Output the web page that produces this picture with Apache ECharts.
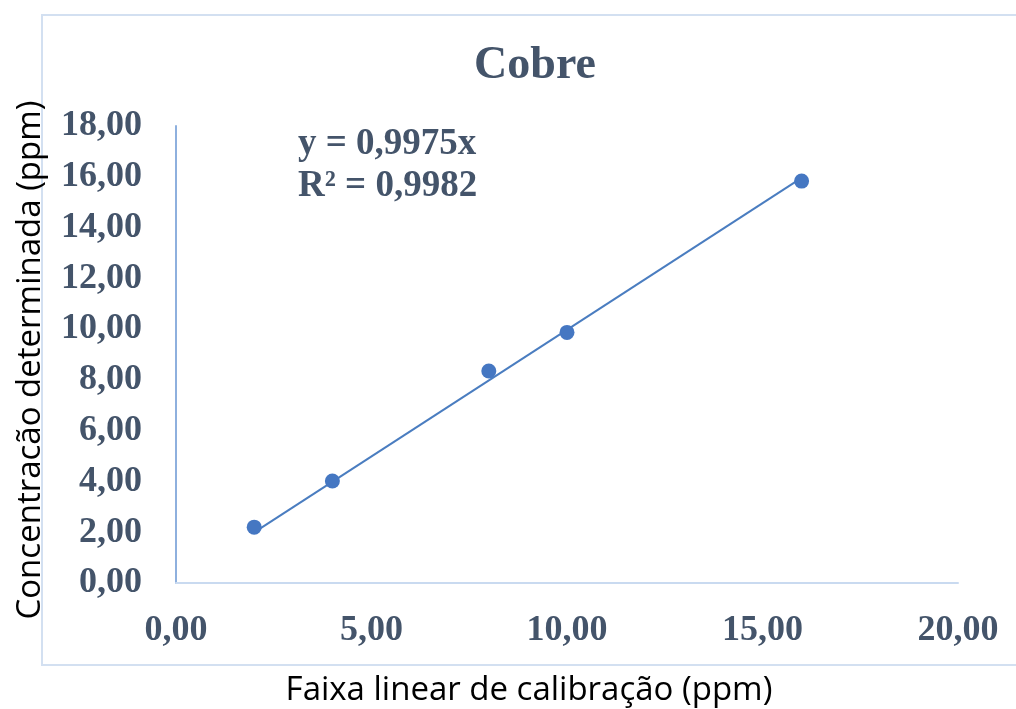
<!DOCTYPE html>
<html>
<head>
<meta charset="utf-8">
<script src="https://cdn.jsdelivr.net/npm/echarts@6/dist/echarts.min.js"></script>
<style>
html,body{margin:0;padding:0;background:#fff;}
#chart{width:1016px;height:709px;}
</style>
</head>
<body>
<div id="chart"></div>
<script>
// Data
const xValues = [2, 4, 8, 10, 16];
const yValues = [2.2, 4.02, 8.35, 9.87, 15.83];
const slope = [0.9975];
const rSquared = [0.9982];
const chartTitle = 'Cobre';
const xAxisTitle = 'Faixa linear de calibração (ppm)';
const yAxisTitle = 'Concentracão determinada (ppm)';

const points = xValues.map((x, i) => [x, yValues[i]]);
const xMin = Math.min(...xValues), xMax = Math.max(...xValues);
const trend = [[xMin, slope[0] * xMin], [xMax, slope[0] * xMax]];
const fmt = v => v.toFixed(2).replace('.', ',');
const fmt4 = v => v.toFixed(4).replace('.', ',');

const textColor = '#44546A';
const serif = '"Liberation Serif", "Times New Roman", serif';
const sans = '"Open Sans", "Noto Sans", sans-serif';

const chart = echarts.init(document.getElementById('chart'));
chart.setOption({
  animation: false,
  backgroundColor: '#fff',
  title: {
    text: chartTitle,
    left: 530,
    top: 38,
    textAlign: 'center',
    textStyle: { fontFamily: serif, fontWeight: 'bold', fontSize: 46, color: textColor }
  },
  grid: { left: 176, right: 58, top: 126, bottom: 126, containLabel: false },
  xAxis: {
    type: 'value', min: 0, max: 20, interval: 5,
    axisLine: { show: true, lineStyle: { color: '#C9DAF0', width: 2 } },
    axisTick: { show: false },
    splitLine: { show: false },
    axisLabel: { margin: 30, formatter: fmt, fontFamily: serif, fontWeight: 'bold', fontSize: 36, color: textColor }
  },
  yAxis: {
    type: 'value', min: 0, max: 18, interval: 2,
    axisLine: { show: true, lineStyle: { color: '#8EB0DE', width: 2 } },
    axisTick: { show: false },
    splitLine: { show: false },
    axisLabel: { margin: 34, formatter: fmt, fontFamily: serif, fontWeight: 'bold', fontSize: 36, color: textColor }
  },
  graphic: [
    { type: 'rect', z: -10, shape: { x: 42, y: 15, width: 1100, height: 650 },
      style: { fill: 'none', stroke: '#D3E0F1', lineWidth: 2 } },
    { type: 'text', left: 298, top: 123,
      style: { text: 'y = ' + fmt4(slope[0]) + 'x\nR² = ' + fmt4(rSquared[0]), font: 'bold 37px ' + serif, fill: textColor, lineHeight: 42 } },
    { type: 'text', x: 529, y: 691,
      style: { text: xAxisTitle, font: '33px ' + sans, fill: '#000', align: 'center', verticalAlign: 'middle' } },
    { type: 'text', x: 31, y: 360, rotation: Math.PI / 2,
      style: { text: yAxisTitle, font: '33px ' + sans, fill: '#000', align: 'center', verticalAlign: 'middle' } }
  ],
  series: [
    { type: 'line', data: trend, symbol: 'none', lineStyle: { color: '#4A7DC0', width: 2 }, z: 2 },
    { type: 'scatter', data: points, symbol: 'circle', symbolSize: 15, itemStyle: { color: '#4577C2', opacity: 1 }, z: 3 }
  ]
});
</script>
</body>
</html>
